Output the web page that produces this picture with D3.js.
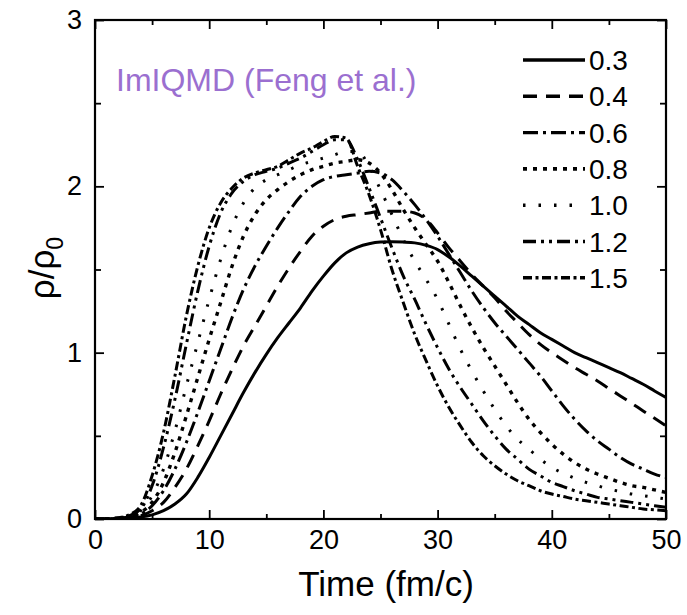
<!DOCTYPE html>
<html>
<head>
<meta charset="utf-8">
<script src="https://cdn.jsdelivr.net/npm/d3@7"></script>
<style>
  html, body { margin: 0; padding: 0; background: #fff; }
  svg text { font-family: "Liberation Sans", Arial, Helvetica, sans-serif; }
</style>
</head>
<body>
<svg id="chart" width="687" height="615"></svg>
<script>
// ---- data ----
const times = [0,1,2,3,4,5,6,7,8,9,10,11,12,13,14,15,16,17,18,19,20,21,22,23,24,25,26,27,28,29,30,31,32,33,34,35,36,37,38,39,40,41,42,43,44,45,46,47,48,49,50];

const rho03 = [0,0,0.003,0.006,0.012,0.025,0.05,0.09,0.15,0.25,0.37,0.5,0.63,0.76,0.88,0.99,1.09,1.18,1.27,1.37,1.46,1.54,1.6,1.635,1.655,1.665,1.667,1.665,1.66,1.645,1.62,1.575,1.52,1.46,1.4,1.34,1.28,1.22,1.17,1.12,1.08,1.04,1.0,0.97,0.94,0.91,0.88,0.845,0.81,0.77,0.73];
const rho04 = [0,0,0.004,0.01,0.02,0.05,0.1,0.19,0.3,0.44,0.59,0.75,0.9,1.04,1.16,1.28,1.4,1.51,1.61,1.7,1.76,1.8,1.82,1.83,1.84,1.85,1.85,1.85,1.84,1.8,1.72,1.63,1.55,1.47,1.4,1.33,1.25,1.18,1.11,1.05,1.0,0.955,0.91,0.87,0.83,0.785,0.74,0.695,0.65,0.605,0.56];
const rho06 = [0,0,0.004,0.01,0.03,0.08,0.17,0.3,0.46,0.64,0.83,1.02,1.21,1.38,1.52,1.64,1.75,1.85,1.94,2.0,2.04,2.06,2.07,2.08,2.09,2.08,2.04,1.97,1.89,1.8,1.7,1.59,1.48,1.37,1.27,1.18,1.1,1.02,0.94,0.86,0.77,0.68,0.6,0.53,0.47,0.42,0.37,0.33,0.3,0.27,0.25];
const rho08 = [0,0,0.004,0.01,0.04,0.1,0.22,0.4,0.62,0.85,1.08,1.3,1.52,1.7,1.83,1.92,1.98,2.03,2.07,2.1,2.12,2.14,2.15,2.16,2.14,2.08,1.98,1.86,1.75,1.65,1.55,1.42,1.28,1.15,1.03,0.92,0.81,0.7,0.6,0.52,0.45,0.39,0.34,0.3,0.27,0.245,0.22,0.2,0.19,0.175,0.16];
const rho10 = [0,0,0.005,0.012,0.05,0.14,0.3,0.53,0.8,1.06,1.32,1.56,1.76,1.9,1.99,2.04,2.07,2.1,2.13,2.15,2.17,2.19,2.21,2.21,2.12,1.98,1.83,1.68,1.55,1.44,1.32,1.17,1.02,0.89,0.77,0.66,0.56,0.48,0.42,0.36,0.31,0.275,0.245,0.22,0.2,0.18,0.165,0.15,0.14,0.13,0.12];
const rho12 = [0,0,0.006,0.02,0.06,0.2,0.43,0.72,1.05,1.37,1.64,1.84,1.96,2.03,2.07,2.09,2.11,2.14,2.17,2.21,2.25,2.28,2.28,2.16,1.99,1.81,1.63,1.46,1.32,1.17,1.03,0.9,0.79,0.69,0.59,0.5,0.42,0.36,0.3,0.26,0.22,0.195,0.17,0.15,0.13,0.12,0.11,0.1,0.09,0.08,0.07];
const rho15 = [0,0,0.007,0.025,0.08,0.26,0.52,0.86,1.22,1.52,1.75,1.9,1.99,2.05,2.08,2.1,2.12,2.16,2.2,2.23,2.27,2.3,2.29,2.12,1.95,1.74,1.5,1.3,1.11,0.95,0.8,0.67,0.56,0.46,0.38,0.32,0.27,0.23,0.2,0.17,0.15,0.135,0.12,0.11,0.1,0.09,0.08,0.07,0.06,0.055,0.05];

const seriesNames = ["0.3","0.4","0.6","0.8","1.0","1.2","1.5"];
const seriesValues = [rho03, rho04, rho06, rho08, rho10, rho12, rho15];

const xTicks = [0,10,20,30,40,50];
const yTicks = [0,1,2,3];
const titleText = "ImIQMD (Feng et al.)";
const xLabel = "Time (fm/c)";

// ---- styles ----
const dashes = ["none", "14,9", "15,5,3,5", "4,6", "2.5,13", "13,5,3,5,3,5", "9,3.5,3,3.5"];
const widths = [3, 3, 3, 3.4, 3, 3, 3];

const svg = d3.select("#chart");
const L = 95, R = 666, T = 20, B = 519;
const x = d3.scaleLinear().domain([0, 50]).range([L, R]);
const y = d3.scaleLinear().domain([0, 3]).range([B, T]);

svg.append("clipPath").attr("id", "clip").append("rect")
  .attr("x", L).attr("y", T).attr("width", R - L).attr("height", B - T);

const line = d3.line().x((d) => x(d[0])).y((d) => y(d[1])).curve(d3.curveMonotoneX);

const plot = svg.append("g").attr("clip-path", "url(#clip)");
seriesValues.forEach((vals, i) => {
  plot.append("path")
    .datum(times.map((t, j) => [t, vals[j]]))
    .attr("d", line)
    .attr("fill", "none")
    .attr("stroke", "#000")
    .attr("stroke-width", widths[i])
    .attr("stroke-dasharray", dashes[i]);
});

// axes
function styleAxis(g) {
  g.select(".domain").remove();
  g.selectAll(".tick line").attr("stroke", "#000").attr("stroke-width", 1.8);
}
const fs = 27;
svg.append("g").attr("transform", `translate(0,${B})`)
  .call(d3.axisBottom(x).tickValues(xTicks).tickSizeInner(-9).tickSizeOuter(0).tickPadding(11).tickFormat(d3.format("d")))
  .call(styleAxis)
  .call(g => g.selectAll("text").attr("font-size", fs).attr("fill", "#000"));
svg.append("g").attr("transform", `translate(0,${B})`)
  .call(d3.axisBottom(x).tickValues([5,15,25,35,45]).tickSizeInner(-5).tickSizeOuter(0).tickFormat(""))
  .call(styleAxis);
svg.append("g").attr("transform", `translate(0,${T})`)
  .call(d3.axisTop(x).tickValues(xTicks).tickSizeInner(-9).tickSizeOuter(0).tickFormat(""))
  .call(styleAxis);
svg.append("g").attr("transform", `translate(0,${T})`)
  .call(d3.axisTop(x).tickValues([5,15,25,35,45]).tickSizeInner(-5).tickSizeOuter(0).tickFormat(""))
  .call(styleAxis);
svg.append("g").attr("transform", `translate(${L},0)`)
  .call(d3.axisLeft(y).tickValues(yTicks).tickSizeInner(-9).tickSizeOuter(0).tickPadding(13).tickFormat(d3.format("d")))
  .call(styleAxis)
  .call(g => g.selectAll("text").attr("font-size", fs).attr("fill", "#000"));
svg.append("g").attr("transform", `translate(${L},0)`)
  .call(d3.axisLeft(y).tickValues([0.5,1.5,2.5]).tickSizeInner(-6).tickSizeOuter(0).tickFormat(""))
  .call(styleAxis);
svg.append("g").attr("transform", `translate(${R},0)`)
  .call(d3.axisRight(y).tickValues(yTicks).tickSizeInner(-9).tickSizeOuter(0).tickFormat(""))
  .call(styleAxis);
svg.append("g").attr("transform", `translate(${R},0)`)
  .call(d3.axisRight(y).tickValues([0.5,1.5,2.5]).tickSizeInner(-6).tickSizeOuter(0).tickFormat(""))
  .call(styleAxis);

// frame
svg.append("rect").attr("x", L).attr("y", T).attr("width", R - L).attr("height", B - T)
  .attr("fill", "none").attr("stroke", "#000").attr("stroke-width", 2.2);

// axis titles
svg.append("text").attr("x", 386).attr("y", 596).attr("text-anchor", "middle")
  .attr("font-size", 35).attr("fill", "#000").text(xLabel);
const yl = svg.append("text").attr("transform", "translate(54,268) rotate(-90)")
  .attr("text-anchor", "middle").attr("font-size", 35).attr("fill", "#000");
yl.append("tspan").text("ρ/ρ");
yl.append("tspan").attr("font-size", 23).attr("dy", 9).text("0");

// title
svg.append("text").attr("x", 116).attr("y", 91).attr("font-size", 32)
  .attr("fill", "#9b6fd0").text(titleText);

// legend
const lg = svg.append("g");
seriesNames.forEach((name, i) => {
  const yy = 60 + i * 36.3;
  lg.append("line").attr("x1", 523).attr("x2", 585).attr("y1", yy).attr("y2", yy)
    .attr("stroke", "#000").attr("stroke-width", widths[i] + 0.4).attr("stroke-dasharray", dashes[i]);
  lg.append("text").attr("x", 589).attr("y", yy + 10).attr("font-size", 28).attr("fill", "#000").text(name);
});
</script>
</body>
</html>
